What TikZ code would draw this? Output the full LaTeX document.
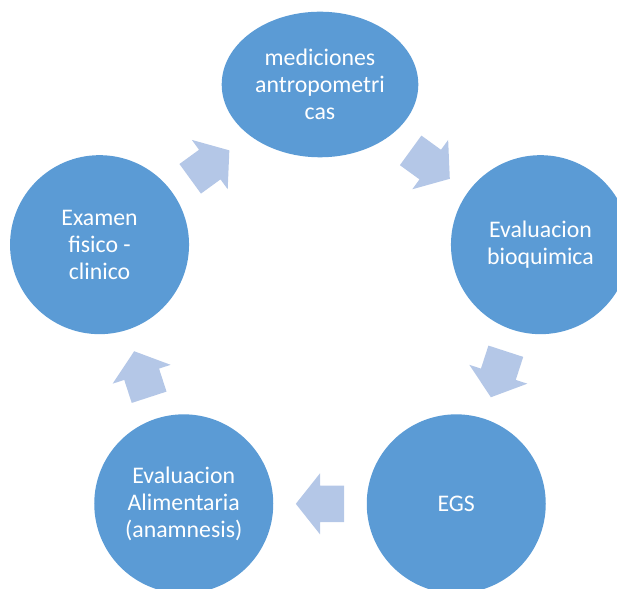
\documentclass[tikz,border=0pt]{standalone}
\usepackage{fontspec}
\setmainfont{Carlito}
\usetikzlibrary{calc,shapes.geometric}
\definecolor{cycleblue}{HTML}{5B9BD5}
\definecolor{arrowblue}{HTML}{B4C7E7}

\begin{document}
\begin{tikzpicture}[x=1pt,y=1pt,
  stage/.style={circle,fill=cycleblue,minimum size=179pt,inner sep=0pt,text=white,align=center,
    font=\fontsize{23.8}{26.8}\selectfont},
  blockarrow/.pic={\fill[arrowblue] (-24.2,18.3)--(0,18.3)--(0,30.5)--(24.2,0)--(0,-30.5)--(0,-18.3)--(-24.2,-18.3)--cycle;}]
  \useasboundingbox (-320,-271.7) rectangle (297,316.3);
  \clip (-320,-271.7) rectangle (297,316.3);
  \node[stage,ellipse,minimum width=196.6pt,minimum height=145.6pt] (medic) at (90:231.8) {mediciones\\antropometri\\cas};
  \node[stage] (bioq) at (18:231.8) {Evaluacion\\bioquimica};
  \node[stage] (egs) at (306:231.8) {EGS};
  \node[stage] (alim) at (234:231.8) {Evaluacion\\Alimentaria\\(anamnesis)};
  \node[stage] (exam) at (162:231.8) {Examen\\fisico -\\clinico};
  \foreach \a/\b/\rot in {exam/medic/36,medic/bioq/-36,bioq/egs/-108,egs/alim/180,alim/exam/108}
    \pic[rotate=\rot] at ($(\a)!0.5!(\b)$) {blockarrow};
\end{tikzpicture}
\end{document}
